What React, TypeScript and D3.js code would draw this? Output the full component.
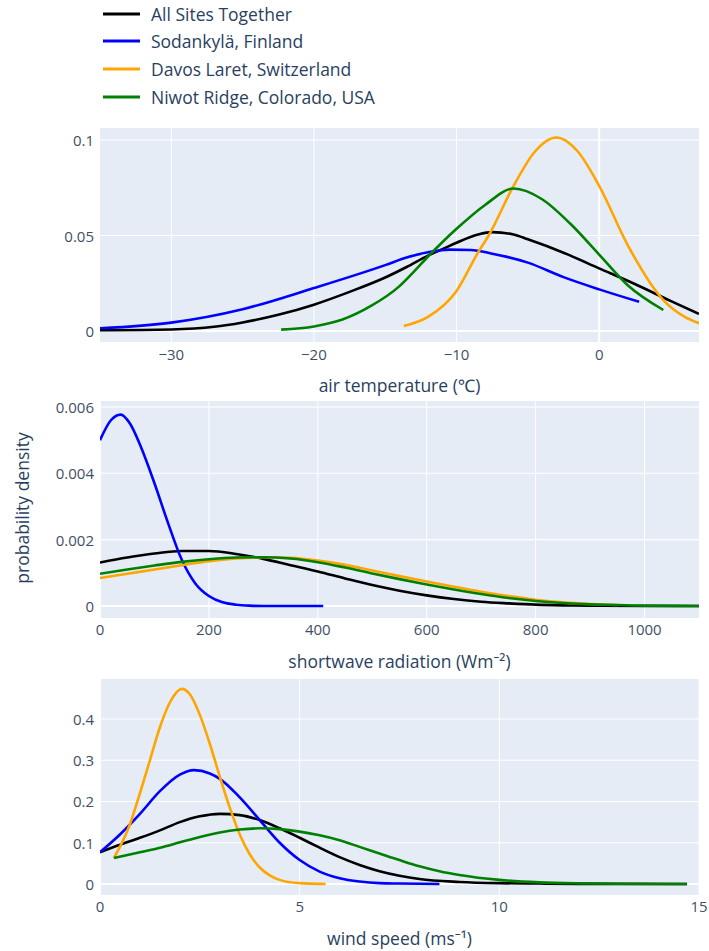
import React from "react";
import * as d3 from "d3";

// Site names and their line colours (legend order = draw order)
const siteNames = [
  "All Sites Together",
  "Sodankylä, Finland",
  "Davos Laret, Switzerland",
  "Niwot Ridge, Colorado, USA",
];
const siteColors = ["#000000", "#0000ff", "#ffa500", "#008000"];

type Pt = [number, number];

// Air temperature (°C) — probability density
const tempAll: Pt[] = [
  [-35, 0.0004], [-30, 0.0008], [-27, 0.0022], [-25, 0.0045], [-22.5, 0.0085], [-20, 0.0138],
  [-17.5, 0.0205], [-15, 0.028], [-13.5, 0.0335], [-12, 0.0395], [-11, 0.0428], [-10, 0.0462],
  [-8.5, 0.0505], [-7.5, 0.0518], [-6, 0.0505], [-5, 0.048], [-2.5, 0.041], [0, 0.0328],
  [2.5, 0.0246], [5, 0.0158], [7, 0.009],
];
const tempSod: Pt[] = [
  [-35, 0.0014], [-30, 0.0044], [-25, 0.0114], [-20, 0.0225], [-15, 0.0345], [-13.5, 0.0385],
  [-12, 0.0412], [-10.5, 0.0426], [-9, 0.0424], [-7.5, 0.0405], [-5, 0.0358], [-2.5, 0.0282],
  [0, 0.0218], [2.8, 0.0153],
];
const tempDav: Pt[] = [
  [-13.7, 0.0026], [-12, 0.0074], [-10, 0.021], [-8.5, 0.041], [-7.75, 0.05], [-6, 0.076],
  [-4.5, 0.094], [-3, 0.1013], [-1.5, 0.094], [0, 0.076], [2, 0.045], [4.5, 0.0162],
  [6, 0.0074], [7, 0.0041],
];
const tempNiw: Pt[] = [
  [-22.3, 0.0007], [-20, 0.0024], [-18, 0.006], [-16, 0.0131], [-14, 0.0235], [-13, 0.031],
  [-12, 0.039], [-11, 0.0465], [-10, 0.0535], [-8, 0.066], [-6, 0.0746], [-4, 0.069],
  [-2, 0.056], [0, 0.04], [2, 0.024], [4.5, 0.011],
];

// Shortwave radiation (W m⁻²) — probability density
const swAll: Pt[] = [
  [0, 0.00131], [50, 0.00146], [100, 0.00158], [150, 0.00166], [200, 0.00166], [250, 0.00157],
  [300, 0.00142], [350, 0.00123], [400, 0.00104], [450, 0.00083], [500, 0.00063], [550, 0.00046],
  [600, 0.00032], [650, 0.00021], [700, 0.00013], [750, 0.00008], [800, 0.00004], [850, 0.00002],
  [900, 0.00001], [1000, 0], [1100, 0],
];
const swSod: Pt[] = [
  [0, 0.005], [20, 0.0056], [38, 0.00577], [55, 0.0055], [75, 0.0048], [100, 0.0037],
  [125, 0.0025], [150, 0.0014], [175, 0.00068], [200, 0.0003], [225, 0.00011], [250, 0.00004],
  [275, 0.00001], [300, 0], [410, 0],
];
const swDav: Pt[] = [
  [0, 0.00084], [50, 0.00097], [100, 0.0011], [150, 0.00123], [200, 0.00135], [250, 0.00143],
  [300, 0.00147], [350, 0.00145], [400, 0.00137], [450, 0.00124], [500, 0.00107], [550, 0.0009],
  [600, 0.00074], [650, 0.00058], [700, 0.00043], [750, 0.0003], [800, 0.00019], [850, 0.00011],
  [900, 0.00006], [950, 0.00003],
];
const swNiw: Pt[] = [
  [0, 0.00097], [50, 0.0011], [100, 0.00122], [150, 0.00133], [200, 0.00141], [250, 0.00146],
  [300, 0.00147], [350, 0.00143], [400, 0.00132], [450, 0.00116], [500, 0.00098], [550, 0.00081],
  [600, 0.00065], [650, 0.0005], [700, 0.00036], [750, 0.00024], [800, 0.00015], [850, 0.00009],
  [900, 0.00005], [950, 0.00003], [1000, 0.00001], [1100, 0],
];

// Wind speed (m s⁻¹) — probability density
const windAll: Pt[] = [
  [0, 0.077], [0.5, 0.095], [1, 0.112], [1.5, 0.13], [2, 0.15], [2.5, 0.164], [3, 0.17],
  [3.5, 0.167], [4, 0.155], [4.5, 0.135], [5, 0.112], [5.5, 0.088], [6, 0.065], [6.5, 0.046],
  [7, 0.031], [7.5, 0.02], [8, 0.012], [9, 0.005], [10, 0.002], [11, 0.001], [12, 0.0003],
  [14.7, 0],
];
const windSod: Pt[] = [
  [0, 0.077], [0.5, 0.12], [1, 0.17], [1.5, 0.225], [2, 0.265], [2.35, 0.276], [2.75, 0.268],
  [3, 0.255], [3.5, 0.21], [4, 0.155], [4.5, 0.1], [5, 0.058], [5.5, 0.03], [6, 0.014],
  [6.5, 0.006], [7, 0.002], [7.5, 0.001], [8.5, 0],
];
const windDav: Pt[] = [
  [0.35, 0.063], [0.75, 0.145], [1, 0.22], [1.25, 0.3], [1.5, 0.38], [1.75, 0.44], [2.05, 0.473],
  [2.25, 0.46], [2.5, 0.41], [2.75, 0.34], [3, 0.26], [3.25, 0.185], [3.5, 0.12], [3.75, 0.072],
  [4, 0.04], [4.25, 0.021], [4.5, 0.01], [5, 0.002], [5.65, 0],
];
const windNiw: Pt[] = [
  [0.35, 0.063], [1, 0.077], [1.5, 0.088], [2, 0.101], [2.5, 0.114], [3, 0.125], [3.5, 0.132],
  [4, 0.135], [4.5, 0.133], [5, 0.127], [5.5, 0.118], [6, 0.106], [6.5, 0.09], [7, 0.074],
  [7.5, 0.058], [8, 0.043], [8.5, 0.031], [9, 0.022], [10, 0.01], [11, 0.004], [12, 0.0015],
  [13, 0.0005], [14.7, 0],
];

// Tick values and their labels
const tempXTicks = [-30, -20, -10, 0];
const tempYTicks = [0, 0.05, 0.1];
const tempYLabels = ["0", "0.05", "0.1"];
const swXTicks = [0, 200, 400, 600, 800, 1000];
const swYTicks = [0, 0.002, 0.004, 0.006];
const swYLabels = ["0", "0.002", "0.004", "0.006"];
const windXTicks = [0, 5, 10, 15];
const windYTicks = [0, 0.1, 0.2, 0.3, 0.4];
const windYLabels = ["0", "0.1", "0.2", "0.3", "0.4"];

const axisTitles = ["air temperature (℃)", "shortwave radiation (Wm⁻²)", "wind speed (ms⁻¹)"];
const yTitle = "probability density";

const FONT = "'Open Sans', 'Noto Sans', sans-serif";
const TEXT = "#2a3f5f";
const TICK = "#3f4f66";
const BG = "#e5ecf6";

const LEFT = 100;
const RIGHT = 699;

interface PanelProps {
  id: string;
  top: number;
  bottom: number;
  xDomain: [number, number];
  yDomain: [number, number];
  xTicks: number[];
  yTicks: number[];
  yLabels: string[];
  series: Pt[][];
  title: string;
  tickY: number;
  titleY: number;
}

function fmtX(v: number) {
  return v < 0 ? "\u2212" + Math.abs(v) : String(v);
}

function Panel(p: PanelProps) {
  const x = d3.scaleLinear().domain(p.xDomain).range([LEFT, RIGHT]);
  const y = d3.scaleLinear().domain(p.yDomain).range([p.bottom, p.top]);
  const line = d3
    .line<Pt>()
    .x((d) => x(d[0]))
    .y((d) => y(d[1]))
    .curve(d3.curveMonotoneX);
  return (
    <g>
      <defs>
        <clipPath id={p.id}>
          <rect x={LEFT} y={p.top} width={RIGHT - LEFT} height={p.bottom - p.top} />
        </clipPath>
      </defs>
      <rect x={LEFT} y={p.top} width={RIGHT - LEFT} height={p.bottom - p.top} fill={BG} />
      {p.xTicks.map((t) => (
        <line key={"gx" + t} x1={x(t)} x2={x(t)} y1={p.top} y2={p.bottom} stroke="#fff"
          strokeWidth={t === 0 ? 2 : 1} />
      ))}
      {p.yTicks.map((t) => (
        <line key={"gy" + t} x1={LEFT} x2={RIGHT} y1={y(t)} y2={y(t)} stroke="#fff"
          strokeWidth={t === 0 ? 2.2 : 1.1} />
      ))}
      <g clipPath={`url(#${p.id})`}>
        {p.series.map((s, i) => (
          <path key={i} d={line(s) ?? ""} fill="none" stroke={siteColors[i]} strokeWidth={2.6}
            strokeLinejoin="round" strokeLinecap="butt" />
        ))}
      </g>
      {p.yTicks.map((t, i) => (
        <text key={"ly" + t} x={LEFT - 6} y={y(t)} textAnchor="end" dominantBaseline="central"
          fontSize={15} fill={TICK} fontFamily={FONT}>
          {p.yLabels[i]}
        </text>
      ))}
      {p.xTicks.map((t) => (
        <text key={"lx" + t} x={x(t)} y={p.tickY} textAnchor="middle" dominantBaseline="central"
          fontSize={15} fill={TICK} fontFamily={FONT}>
          {fmtX(t)}
        </text>
      ))}
      <text x={(LEFT + RIGHT) / 2} y={p.titleY} textAnchor="middle" dominantBaseline="central"
        fontSize={17.5} fill={TEXT} fontFamily={FONT}>
        {p.title}
      </text>
    </g>
  );
}

export default function App() {
  const legendY = [14, 41, 69, 97];
  return (
    <svg width={709} height={951} style={{ position: "absolute", left: 0, top: 0, background: "#fff" }}>
      <rect width={709} height={951} fill="#fff" />
      {siteNames.map((n, i) => (
        <g key={n}>
          <line x1={103} x2={140} y1={legendY[i]} y2={legendY[i]} stroke={siteColors[i]} strokeWidth={2.8} />
          <text x={151} y={legendY[i]} dominantBaseline="central" fontSize={17.5} fill={TEXT} fontFamily={FONT}>
            {n}
          </text>
        </g>
      ))}
      <Panel id="c1" top={128} bottom={342} xDomain={[-35, 7]} yDomain={[-0.00576, 0.1063]}
        xTicks={tempXTicks} yTicks={tempYTicks} yLabels={tempYLabels}
        series={[tempAll, tempSod, tempDav, tempNiw]} title={axisTitles[0]} tickY={354} titleY={385} />
      <Panel id="c2" top={401} bottom={618} xDomain={[0, 1100]} yDomain={[-0.000362, 0.00618]}
        xTicks={swXTicks} yTicks={swYTicks} yLabels={swYLabels}
        series={[swAll, swSod, swDav, swNiw]} title={axisTitles[1]} tickY={629} titleY={661} />
      <Panel id="c3" top={679} bottom={895} xDomain={[0, 15]} yDomain={[-0.0267, 0.4970]}
        xTicks={windXTicks} yTicks={windYTicks} yLabels={windYLabels}
        series={[windAll, windSod, windDav, windNiw]} title={axisTitles[2]} tickY={906} titleY={938} />
      <text transform="translate(22,508) rotate(-90)" textAnchor="middle" dominantBaseline="central"
        fontSize={17.5} fill={TEXT} fontFamily={FONT}>
        {yTitle}
      </text>
    </svg>
  );
}
